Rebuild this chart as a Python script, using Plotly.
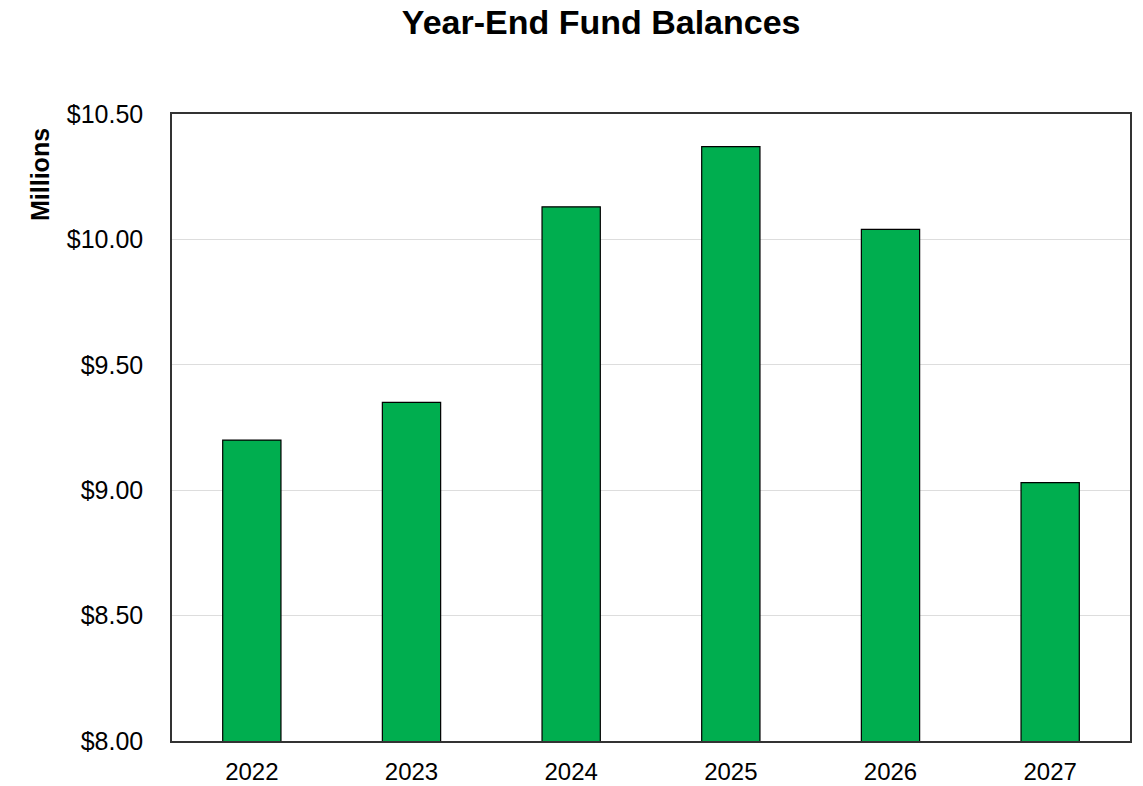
import plotly.graph_objects as go

# Year-end fund balances, in millions of dollars
years = ["2022", "2023", "2024", "2025", "2026", "2027"]
balances = [9.20, 9.35, 10.13, 10.37, 10.04, 9.03]

y_ticks = [8.0, 8.5, 9.0, 9.5, 10.0, 10.5]
y_tick_labels = ["$8.00", "$8.50", "$9.00", "$9.50", "$10.00", "$10.50"]

W, H = 1143, 786
L, R, T, B = 172, 13, 114, 45

fig = go.Figure(
    go.Bar(
        x=years,
        y=balances,
        marker=dict(color="#00AE4F", line=dict(color="#000000", width=1.2)),
        width=0.365,
    )
)

fig.update_layout(
    width=W,
    height=H,
    margin=dict(l=L, r=R, t=T, b=B, autoexpand=False),
    paper_bgcolor="white",
    plot_bgcolor="white",
    font=dict(family="Arial, Liberation Sans, sans-serif", size=25, color="#000000"),
    title=dict(
        text="<b>Year-End Fund Balances</b>",
        x=0.448,
        xref="paper",
        xanchor="center",
        y=1 - 22 / H,
        yref="container",
        yanchor="middle",
        font=dict(size=34, color="#000000"),
    ),
    showlegend=False,
    xaxis=dict(
        showline=True,
        linecolor="#333333",
        linewidth=1.5,
        mirror=True,
        ticks="",
        ticklabelstandoff=8,
        showgrid=False,
        automargin=False,
        tickfont=dict(size=24),
    ),
    yaxis=dict(
        range=[8.0, 10.5],
        tickvals=y_ticks,
        ticktext=y_tick_labels,
        showline=True,
        linecolor="#333333",
        linewidth=1.5,
        mirror=True,
        ticks="",
        ticklabelstandoff=22,
        showgrid=True,
        gridcolor="#DDDDDD",
        gridwidth=1,
        zeroline=False,
        automargin=False,
    ),
    annotations=[
        dict(
            text="<b>Millions</b>",
            x=(40 - L) / (W - L - R),
            y=(H - B - 175) / (H - B - T),
            xref="paper",
            yref="paper",
            xanchor="center",
            yanchor="middle",
            showarrow=False,
            textangle=-90,
            font=dict(size=25, color="#000000"),
        )
    ],
)

fig.write_html("out.html")
